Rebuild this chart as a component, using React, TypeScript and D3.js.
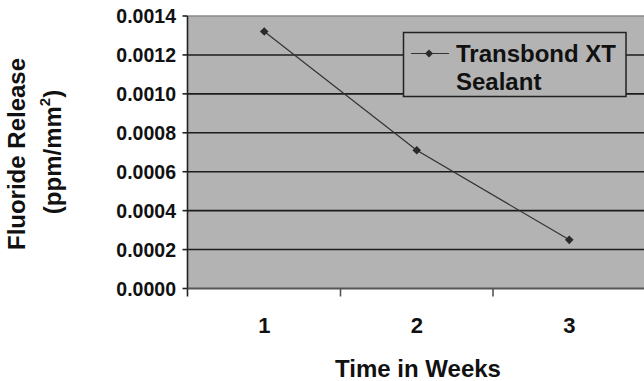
import React from "react";
import * as d3 from "d3";

const weeks = ["1", "2", "3"];
const release = [0.00132, 0.00071, 0.00025];
const yTicks = [0, 0.0002, 0.0004, 0.0006, 0.0008, 0.001, 0.0012, 0.0014];
const seriesName = ["Transbond XT", "Sealant"];

const W = 644;
const H = 381;
const FONT = "'Liberation Sans', Arial, Helvetica, sans-serif";

const plot = { left: 187.5, top: 16, bottom: 288.5, right: 646 };

export default function App() {
  const x = d3
    .scaleBand<string>()
    .domain(weeks)
    .range([188, 645.5])
    .paddingInner(0)
    .paddingOuter(0);
  const y = d3.scaleLinear().domain([0, 0.0014]).range([plot.bottom, plot.top]);
  const cx = (w: string) => (x(w) as number) + x.bandwidth() / 2;

  const line = d3
    .line<number>()
    .x((_, i) => cx(weeks[i]))
    .y((d) => y(d));

  const diamond = (px: number, py: number, r: number) =>
    `M${px},${py - r}L${px + r},${py}L${px},${py + r}L${px - r},${py}Z`;

  const fmt = d3.format(".4f");
  const bandEdges = weeks.map((w) => x(w) as number).slice(1);

  return (
    <svg
      width={W}
      height={H}
      style={{ position: "absolute", left: 0, top: 0, background: "#fff" }}
      fontFamily={FONT}
      fontWeight="bold"
    >
      {/* plot area */}
      <rect
        x={plot.left}
        y={plot.top}
        width={plot.right - plot.left}
        height={plot.bottom - plot.top}
        fill="#b3b3b3"
      />
      {/* horizontal gridlines */}
      {yTicks.slice(1).map((t, i) => (
        <line
          key={`g${i}`}
          x1={plot.left}
          x2={plot.right}
          y1={y(t)}
          y2={y(t)}
          stroke={t === 0.0014 ? "#8a8a8a" : "#1c1c1c"}
          strokeWidth={1.6}
        />
      ))}
      {/* y axis */}
      <line x1={plot.left} x2={plot.left} y1={plot.top} y2={plot.bottom + 8} stroke="#222" strokeWidth={1.6} />
      {yTicks.map((t, i) => (
        <g key={`yt${i}`}>
          <line x1={plot.left - 5} x2={plot.left} y1={y(t)} y2={y(t)} stroke="#222" strokeWidth={1.6} />
          <text x={176} y={y(t)} dy="0.36em" textAnchor="end" fontSize={19.5} fill="#111">
            {fmt(t)}
          </text>
        </g>
      ))}
      {/* x axis */}
      <line x1={plot.left} x2={plot.right} y1={plot.bottom} y2={plot.bottom} stroke="#555" strokeWidth={2} />
      {bandEdges.map((e, i) => (
        <line key={`xt${i}`} x1={e} x2={e} y1={plot.bottom} y2={plot.bottom + 8} stroke="#555" strokeWidth={1.6} />
      ))}
      {weeks.map((w) => (
        <text key={`xl${w}`} x={cx(w)} y={333} textAnchor="middle" fontSize={22} fill="#111">
          {w}
        </text>
      ))}
      {/* series */}
      <path d={line(release) ?? ""} fill="none" stroke="#333" strokeWidth={1.2} />
      {release.map((v, i) => (
        <path key={`m${i}`} d={diamond(cx(weeks[i]), y(v), 4.3)} fill="#2a2a2a" />
      ))}
      {/* legend */}
      <rect x={403.5} y={32.5} width={222.5} height={64} fill="#b3b3b3" stroke="#222" strokeWidth={1.5} />
      <line x1={411} x2={449} y1={53.5} y2={53.5} stroke="#333" strokeWidth={1.2} />
      <path d={diamond(429, 53.5, 4)} fill="#2a2a2a" />
      <text x={456} y={61.7} fontSize={24} fill="#111">
        {seriesName[0]}
      </text>
      <text x={456} y={89.5} fontSize={24} fill="#111">
        {seriesName[1]}
      </text>
      {/* axis titles */}
      <text x={418} y={376.5} textAnchor="middle" fontSize={24} fill="#111">
        Time in Weeks
      </text>
      <text transform="translate(25,154) rotate(-90)" textAnchor="middle" fontSize={24} fill="#111">
        Fluoride Release
      </text>
      <text transform="translate(61,152) rotate(-90)" textAnchor="middle" fontSize={24} fill="#111">
        (ppm/mm
        <tspan fontSize={15} dy={-11}>2</tspan>
        <tspan dy={11}>)</tspan>
      </text>
    </svg>
  );
}
